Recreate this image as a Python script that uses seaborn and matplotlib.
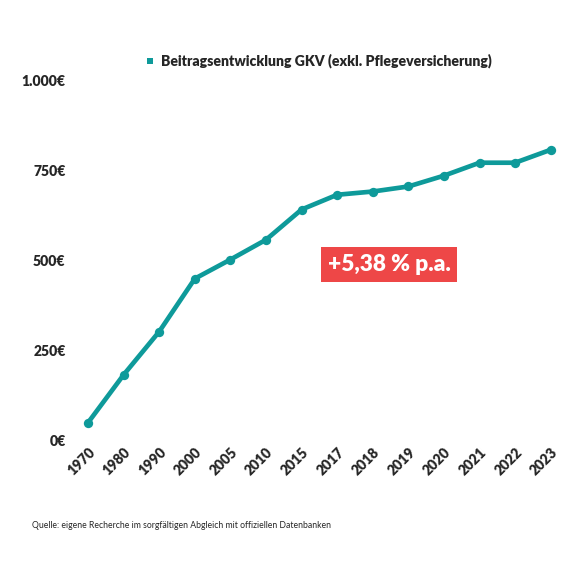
import matplotlib
matplotlib.use("Agg")
import matplotlib.pyplot as plt
import seaborn as sns
import pandas as pd

years = ["1970","1980","1990","2000","2005","2010","2015","2017","2018","2019","2020","2021","2022","2023"]
values = [50,183,303,450,503,558,642,683,692,706,736,772,772,808]
yticks = [0,250,500,750,1000]
ytick_labels = ["0€","250€","500€","750€","1.000€"]

sns.set_theme(style="white")
plt.rcParams['font.family'] = ['Lato', 'DejaVu Sans']
color = "#0e9a9a"
df = pd.DataFrame({"x": range(len(years)), "y": values})

fig = plt.figure(figsize=(6, 6), dpi=96)
ax = fig.add_axes([0.122, 0.235, 0.865, 0.625])
sns.lineplot(data=df, x="x", y="y", ax=ax, color=color, linewidth=3.5,
             marker="o", markersize=7, markeredgewidth=0,
             label="Beitragsentwicklung GKV (exkl. Pflegeversicherung)")
ax.set_xlim(-0.5, len(years) - 0.5)
ax.set_ylim(0, 1000)
ax.set_xticks(range(len(years)))
ax.set_xticklabels(years, rotation=45, ha="right", rotation_mode="anchor", fontweight="heavy", fontsize=10.5)
ax.set_yticks(yticks)
ax.set_yticklabels(ytick_labels, fontweight="heavy", fontsize=10.5)
ax.set_xlabel(""); ax.set_ylabel("")
for s in ax.spines.values():
    s.set_visible(False)
ax.tick_params(length=0)
leg = ax.legend(loc="lower center", bbox_to_anchor=(0.5, 1.0), frameon=False,
                handlelength=0.4, handletextpad=0.6, prop={"weight": "heavy", "size": 10.5})
for h in leg.legend_handles:
    h.set_linestyle("")
    h.set_marker("s"); h.set_markersize(4)
ax.text(0.64, 0.49, "+5,38 % p.a.", transform=ax.transAxes, fontsize=17, fontweight="heavy",
        color="white", ha="center", va="center",
        bbox=dict(boxstyle="square,pad=0.3", facecolor="#ee4747", edgecolor="none"))
fig.text(0.055, 0.083, "Quelle: eigene Recherche im sorgfältigen Abgleich mit offiziellen Datenbanken", fontsize=6.5)
fig.savefig("out.png", dpi=96)
